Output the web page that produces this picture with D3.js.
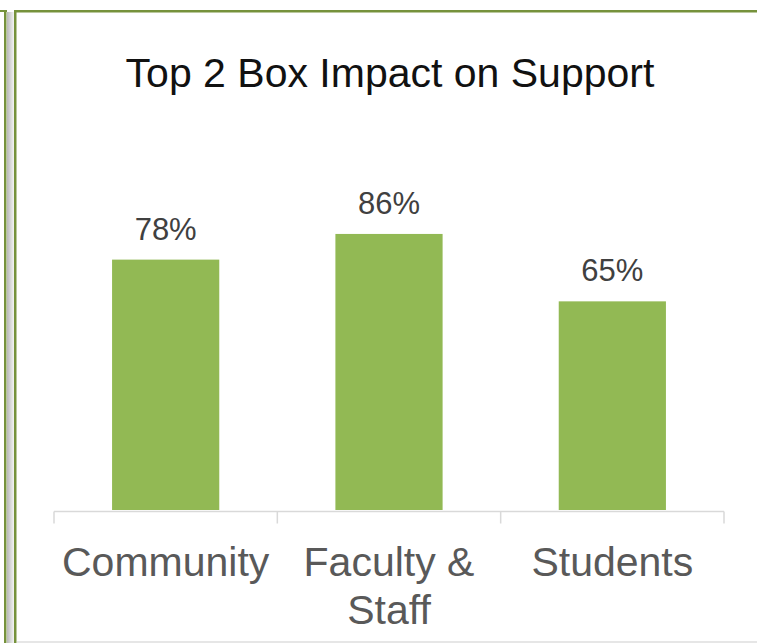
<!DOCTYPE html>
<html>
<head>
<meta charset="utf-8">
<script src="https://cdn.jsdelivr.net/npm/d3@7"></script>
<style>
  html, body { margin: 0; padding: 0; background: #fff; }
  svg { display: block; }
</style>
</head>
<body>
<div id="chart"></div>
<script>
// Top 2 Box Impact on Support
const categories = ['Community', 'Faculty & Staff', 'Students'];
const labelLines = [['Community'], ['Faculty &', 'Staff'], ['Students']];
const values = [0.78, 0.86, 0.65];

(function() {
    const width = 757, height = 643;
    const plot = { left: 54, right: 724, base: 510, top: 189 };

    const svg = d3.select('#chart').append('svg')
        .attr('width', width)
        .attr('height', height);

    // shadow strip between the two slide frames
    const defs = svg.append('defs');
    const grad = defs.append('linearGradient').attr('id', 'shade')
        .attr('x1', '0%').attr('x2', '100%');
    grad.append('stop').attr('offset', '0%').attr('stop-color', '#b8b8b8');
    grad.append('stop').attr('offset', '100%').attr('stop-color', '#f4f4f4');
    svg.append('rect').attr('x', 7).attr('y', 12).attr('width', 7).attr('height', height - 12)
        .attr('fill', 'url(#shade)');

    // frame borders
    const green = '#76923c';
    svg.append('rect').attr('x', 0).attr('y', 10).attr('width', 7).attr('height', 2).attr('fill', green);
    svg.append('rect').attr('x', 4).attr('y', 10).attr('width', 2.5).attr('height', height).attr('fill', green);
    svg.append('rect').attr('x', 14).attr('y', 10).attr('width', width - 14).attr('height', 2.5).attr('fill', green);
    svg.append('rect').attr('x', 14).attr('y', 10).attr('width', 2.5).attr('height', height).attr('fill', green);
    svg.append('rect').attr('x', 17).attr('y', height - 2).attr('width', width).attr('height', 2).attr('fill', '#e6e6e6');

    // title
    svg.append('text')
        .attr('x', 390).attr('y', 87)
        .attr('text-anchor', 'middle')
        .attr('font-family', 'Liberation Sans, Arial, sans-serif')
        .attr('font-size', '41px')
        .attr('fill', '#111')
        .text('Top 2 Box Impact on Support');

    const x = d3.scaleBand()
        .domain(categories)
        .range([plot.left, plot.right])
        .paddingInner(0.52)
        .paddingOuter(0.26);

    const y = d3.scaleLinear()
        .domain([0, 1])
        .range([plot.base, plot.top]);

    // bars
    svg.selectAll('.bar')
        .data(values)
        .enter()
        .append('rect')
        .attr('x', (d, i) => x(categories[i]))
        .attr('y', d => y(d))
        .attr('width', x.bandwidth())
        .attr('height', d => y(0) - y(d))
        .attr('fill', '#92b954');

    // value labels
    svg.selectAll('.val')
        .data(values)
        .enter()
        .append('text')
        .attr('x', (d, i) => x(categories[i]) + x.bandwidth() / 2)
        .attr('y', d => y(d) - 20)
        .attr('text-anchor', 'middle')
        .attr('font-family', 'Liberation Sans, Arial, sans-serif')
        .attr('font-size', '31px')
        .attr('fill', '#404040')
        .text(d => d3.format('.0%')(d));

    // category axis
    const axisY = plot.base + 1.5;
    svg.append('line')
        .attr('x1', plot.left).attr('x2', plot.right)
        .attr('y1', axisY).attr('y2', axisY)
        .attr('stroke', '#d9d9d9').attr('stroke-width', 1.5);

    const bounds = d3.range(categories.length + 1).map(i => plot.left + i * x.step());
    svg.selectAll('.tick')
        .data(bounds)
        .enter()
        .append('line')
        .attr('x1', d => d).attr('x2', d => d)
        .attr('y1', axisY).attr('y2', axisY + 12)
        .attr('stroke', '#d9d9d9').attr('stroke-width', 1.5);

    const cat = svg.selectAll('.cat')
        .data(labelLines)
        .enter()
        .append('text')
        .attr('text-anchor', 'middle')
        .attr('font-family', 'Liberation Sans, Arial, sans-serif')
        .attr('font-size', '41px')
        .attr('fill', '#595959');

    cat.each(function(lines, i) {
        const cx = x(categories[i]) + x.bandwidth() / 2;
        lines.forEach(function(line, j) {
            d3.select(this).append('tspan')
                .attr('x', cx)
                .attr('y', 576 + j * 48)
                .text(line);
        }, this);
    });
})();
</script>
</body>
</html>
